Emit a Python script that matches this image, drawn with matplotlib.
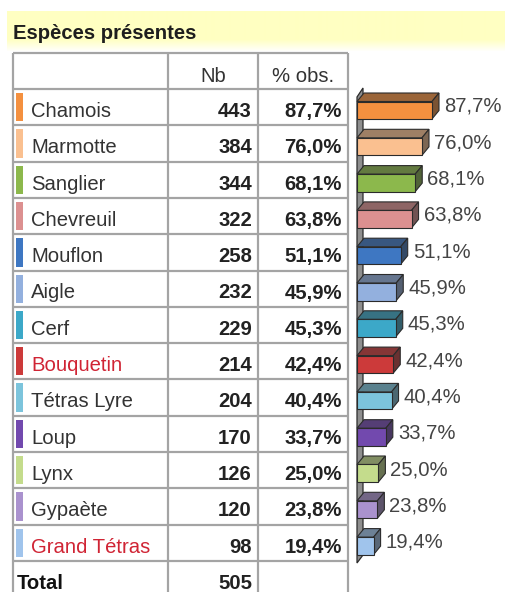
import matplotlib
matplotlib.use('Agg')
import matplotlib.pyplot as plt
import numpy as np
from matplotlib.patches import Polygon
from matplotlib.colors import to_rgb

# ---------------- data ----------------
title = "Espèces présentes"
headers = ["Nb", "% obs."]
species = ["Chamois", "Marmotte", "Sanglier", "Chevreuil", "Mouflon", "Aigle",
           "Cerf", "Bouquetin", "Tétras Lyre", "Loup", "Lynx", "Gypaète",
           "Grand Tétras"]
counts = [443, 384, 344, 322, 258, 232, 229, 214, 204, 170, 126, 120, 98]
pct = [87.7, 76.0, 68.1, 63.8, 51.1, 45.9, 45.3, 42.4, 40.4, 33.7, 25.0, 23.8, 19.4]
bar_colors = ["#F4903F", "#FAC090", "#8CB84C", "#DC9090", "#3E77C2", "#93B0DE",
              "#3CA8C8", "#CC3A3A", "#7CC4DC", "#7249AE", "#C4DC8C", "#AA92CE",
              "#A0C4EC"]
highlight = ["Bouquetin", "Grand Tétras"]
total_label = "Total"
total_value = 505

# ---------------- layout / style ----------------
W, H = 506, 592
FONT = "Liberation Sans"
FS = 14.6
TABLE_TOP = 53
ROW0 = 89
RH = 36.3
COLX = [13, 168, 258, 348]
GRID = "#a4a4a4"

def fmt_pct(p):
    return f"{p:.1f}".replace(".", ",") + "%"

def shade(c, f, gray=0.0):
    r = np.array(to_rgb(c))
    r = r * (1 - gray) + np.array([0.5, 0.5, 0.5]) * gray
    return tuple(np.clip(r * f, 0, 1))

fig = plt.figure(figsize=(W / 100, H / 100), dpi=100)
fig.patch.set_facecolor("white")
ax = fig.add_axes([0, 0, 1, 1])

# title band (pale yellow fading to white)
ys = np.arange(12, 53)
t = np.clip((ys - 40) / 12.0, 0, 1)[:, None]
yel = np.array(to_rgb("#FFFFC2"))
grad = (yel * (1 - t) + np.ones(3) * t)[:, None, :]
ax.imshow(grad, extent=[7, W, 52.5, 12], aspect="auto", origin="upper",
          interpolation="bilinear", zorder=0)
ax.set_xlim(0, W)
ax.set_ylim(H, 0)
ax.axis("off")

ax.text(13, 39, title, fontsize=FS, fontweight="bold", family=FONT,
        color="#1e1e1e", va="baseline", ha="left")

# table grid
n = len(species)
row_edges = [TABLE_TOP] + [ROW0 + k * RH for k in range(n + 2)]
ax.hlines(row_edges, COLX[0], COLX[-1], color=GRID, lw=1.6, zorder=2)
ax.vlines(COLX, TABLE_TOP, row_edges[-1], color=GRID, lw=1.6, zorder=2)

# header
ax.text((COLX[1] + COLX[2]) / 2, TABLE_TOP + 29, headers[0], fontsize=FS,
        family=FONT, color="#333333", ha="center", va="baseline")
ax.text((COLX[2] + COLX[3]) / 2, TABLE_TOP + 29, headers[1], fontsize=FS,
        family=FONT, color="#333333", ha="center", va="baseline")

for i, (name, c, p, col) in enumerate(zip(species, counts, pct, bar_colors)):
    top = ROW0 + i * RH
    ax.add_patch(plt.Rectangle((16, top + 4), 7, RH - 8, color=col, lw=0, zorder=3))
    ncol = "#D02434" if name in highlight else "#333333"
    ax.text(31, top + 28, name, fontsize=FS, family=FONT, color=ncol,
            ha="left", va="baseline")
    ax.text(COLX[2] - 6, top + 28, str(c), fontsize=FS, family=FONT,
            fontweight="bold", color="#222222", ha="right", va="baseline")
    ax.text(COLX[3] - 6, top + 28, fmt_pct(p), fontsize=FS, family=FONT,
            fontweight="bold", color="#222222", ha="right", va="baseline")

top = ROW0 + n * RH
ax.text(17, top + 28, total_label, fontsize=FS, family=FONT, fontweight="bold",
        color="#111111", ha="left", va="baseline")
ax.text(COLX[2] - 6, top + 28, str(total_value), fontsize=FS, family=FONT,
        fontweight="bold", color="#222222", ha="right", va="baseline")

# ---------------- 3D-ish bar chart ----------------
PXPCT = 0.855                 # pixels per percent
X0 = 357
axb = fig.add_axes([X0 / W, 1 - (ROW0 + n * RH) / H, 100 * PXPCT / W, n * RH / H])
axb.set_xlim(0, 100)
axb.set_ylim(n, 0)
axb.axis("off")

DX = 7 / PXPCT
DY = 8.5 / RH
EDGE = "#2b2b2b"

# wall
wall = Polygon([(0, (563 - ROW0) / RH), (0, (97 - ROW0) / RH),
                (6 / PXPCT, (88 - ROW0) / RH), (6 / PXPCT, (555 - ROW0) / RH)],
               closed=True, facecolor="#8e8e8e", edgecolor=EDGE, lw=0.9,
               clip_on=False, zorder=1)
axb.add_patch(wall)

yt_off = 12.5 / RH
yb_off = 30 / RH
centers = [i + (yt_off + yb_off) / 2 for i in range(n)]
for i, (v, col) in enumerate(zip(pct, bar_colors)):
    yt = i + yt_off
    yb = i + yb_off
    topf = Polygon([(0, yt), (v, yt), (v + DX, yt - DY), (DX, yt - DY)],
                   closed=True, facecolor=shade(col, 0.72, 0.25),
                   edgecolor=EDGE, lw=0.8, clip_on=False, zorder=2)
    side = Polygon([(v, yt), (v + DX, yt - DY), (v + DX, yb - DY), (v, yb)],
                   closed=True, facecolor=shade(col, 0.6, 0.35),
                   edgecolor=EDGE, lw=0.8, clip_on=False, zorder=2)
    axb.add_patch(topf)
    axb.add_patch(side)
    axb.text(v + DX + 5 / PXPCT, i + 23 / RH, fmt_pct(v), fontsize=FS,
             family=FONT, color="#444444", ha="left", va="baseline",
             clip_on=False)

axb.barh(centers, pct, height=yb_off - yt_off, left=0, color=bar_colors,
         edgecolor=EDGE, linewidth=0.8, zorder=3, clip_on=False)

fig.savefig("out.png", dpi=100, facecolor="white")
